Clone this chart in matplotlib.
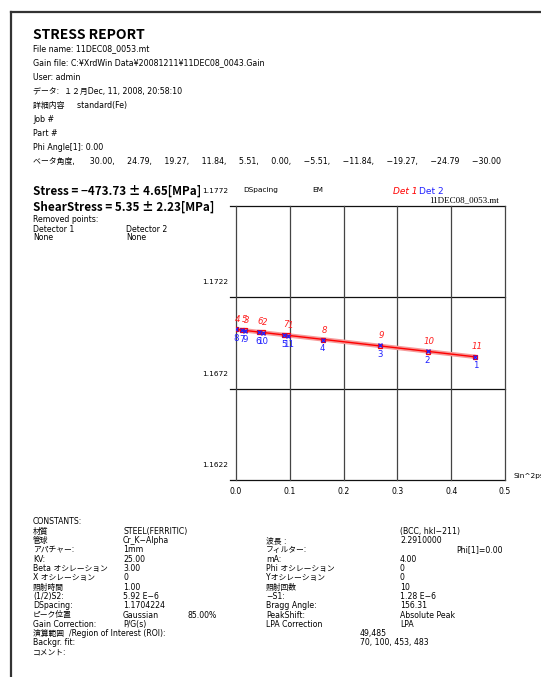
import numpy as np
import matplotlib
matplotlib.use("Agg")
import matplotlib.pyplot as plt
from matplotlib.lines import Line2D
import matplotlib.transforms as mtransforms

W, H = 541, 677
JP = ['Noto Sans CJK JP', 'DejaVu Sans']
LAT = ['DejaVu Sans', 'Noto Sans CJK JP']
plt.rcParams['font.family'] = JP
plt.rcParams['axes.unicode_minus'] = False

# ---- measured d-spacing vs sin^2(psi) for both detectors ----
point_no = list(range(1, 12))
det1_sin2psi = [0.097, 0.050, 0.017, 0.000, 0.012, 0.042, 0.089, 0.161, 0.267, 0.356, 0.445]
det1_d = [1.17012, 1.17028, 1.17041, 1.17046, 1.17043, 1.17031, 1.17015,
          1.16985, 1.16954, 1.16922, 1.16894]
det2_sin2psi = [0.445, 0.356, 0.267, 0.161, 0.089, 0.042, 0.012, 0.000, 0.017, 0.050, 0.097]
det2_d = [1.16896, 1.16926, 1.16957, 1.16988, 1.17013, 1.17030, 1.17040,
          1.17044, 1.17038, 1.17027, 1.17010]

y_ticks = [1.1622, 1.1672, 1.1722, 1.1772]
x_ticks = [0.0, 0.1, 0.2, 0.3, 0.4, 0.5]

beta_angles = ["30.00", "24.79", "19.27", "11.84", "5.51", "0.00",
               "−5.51", "−11.84", "−19.27", "−24.79", "−30.00"]
header_lines = [
    "File name: 11DEC08_0053.mt",
    "Gain file: C:¥XrdWin Data¥20081211¥11DEC08_0043.Gain",
    "User: admin",
    "データ:  １２月Dec, 11, 2008, 20:58:10",
    "詳細内容     standard(Fe)",
    "Job #",
    "Part #",
    "Phi Angle[1]: 0.00",
    "ベータ角度,      " + ",     ".join(beta_angles[:-1]) + "     " + beta_angles[-1],
]
stress_text = "Stress = −473.73 ± 4.65[MPa]"
shear_text = "ShearStress = 5.35 ± 2.23[MPa]"

const_col1 = ["材質", "管球", "アパチャー:", "KV:", "Beta オシレーション", "X オシレーション",
              "照射時間", "(1/2)S2:", "DSpacing:", "ピーク位置", "Gain Correction:",
              "演算範囲  /Region of Interest (ROI):", "Backgr. fit:", "コメント:"]
const_col2 = ["STEEL(FERRITIC)", "Cr_K−Alpha", "1mm", "25.00", "3.00", "0", "1.00",
              "5.92 E−6", "1.1704224", "Gaussian", "P/G(s)"]
const_col3 = ["波長 :", "フィルター:", "mA:", "Phi オシレーション", "Yオシレーション",
              "照射回数", "−S1:", "Bragg Angle:", "PeakShift:", "LPA Correction"]
const_col4 = ["(BCC, hkl−211)", "2.2910000", "", "4.00", "0", "0", "10", "1.28 E−6",
              "156.31", "Absolute Peak", "LPA"]
roi_values = ["49,485", "70, 100, 453, 483"]

fig = plt.figure(figsize=(W / 100, H / 100), dpi=100)


def fx(x):
    return x / W


def fy(y):
    return 1 - y / H


def ftext(x, y, s, size=5.6, **kw):
    kw.setdefault('va', 'center')
    kw.setdefault('ha', 'left')
    kw.setdefault('family', LAT)
    fig.text(fx(x), fy(y), s, fontsize=size, **kw)


# page frame (top and left edges)
fig.add_artist(Line2D([fx(11), fx(W + 5)], [fy(12), fy(12)], color='#333333', lw=1.6))
fig.add_artist(Line2D([fx(11), fx(11)], [fy(12), fy(H + 5)], color='#333333', lw=1.6))

# report header
ftext(33, 35, "STRESS REPORT", size=10, fontweight='bold', family=JP)
hy = 49
for line in header_lines:
    ftext(33, hy, line, size=5.7)
    hy += 14

ftext(33, 191, stress_text, size=8.4, family=JP, fontweight='bold')
ftext(33, 207, shear_text, size=8.4, family=JP, fontweight='bold')
ftext(33, 219, "Removed points:")
ftext(33, 229, "Detector 1")
ftext(126, 229, "Detector 2")
ftext(33, 238, "None")
ftext(126, 238, "None")

# plot area
x0, x1, ytop, ybot = 236, 505, 206, 480
ax = fig.add_axes([fx(x0), fy(ybot), (x1 - x0) / W, (ybot - ytop) / H])
ax.set_xlim(0, 0.5)
ax.set_ylim(y_ticks[0], y_ticks[-1])
for s in ax.spines.values():
    s.set_visible(False)
ax.set_xticks([])
ax.set_yticks([])
ax.patch.set_alpha(0)

blend = mtransforms.blended_transform_factory(ax.transAxes, ax.transData)
ext = -6 / (x1 - x0)
for v in y_ticks:
    ax.add_line(Line2D([ext, 1], [v, v], transform=blend, color='#111111', lw=0.9,
                       clip_on=False))
    ax.annotate(f"{v:.4f}", xy=(0, v), xycoords=('axes fraction', 'data'),
                xytext=(-8, 15), textcoords='offset pixels', ha='right', va='center',
                fontsize=5.3, family=LAT)
for v in x_ticks:
    ax.axvline(v, color='#444444', lw=0.9, clip_on=False)
    ax.annotate(f"{v:.1f}", xy=(v, 0), xycoords=('data', 'axes fraction'),
                xytext=(0, -11), textcoords='offset pixels', ha='center', va='center',
                fontsize=5.6, family=LAT)
ax.annotate("Sin^2psi", xy=(1, 0), xycoords='axes fraction', xytext=(8, 4),
            textcoords='offset pixels', ha='left', va='center', fontsize=5.3,
            family=LAT, annotation_clip=False)

# linear fit through all points
xs = np.array(det1_sin2psi + det2_sin2psi)
ds = np.array(det1_d + det2_d)
slope, icpt = np.polyfit(xs, ds, 1)
xf = np.array([0.0, xs.max()])
ax.plot(xf, icpt + slope * xf, color='#f59a9a', lw=3.2, solid_capstyle='butt', zorder=3)
ax.plot(xf, icpt + slope * xf, color='#ff0000', lw=1.0, zorder=4)

ax.plot(det1_sin2psi, det1_d, ls='none', marker='s', ms=3, mfc='none', mec='#ff0000',
        mew=0.9, zorder=5)
ax.plot(det2_sin2psi, det2_d, ls='none', marker='x', ms=3, mec='#2020ff',
        mew=0.9, zorder=5)
for n, x, d in zip(point_no, det1_sin2psi, det1_d):
    ax.annotate(str(n), xy=(x, d), xytext=(2, 10), textcoords='offset pixels',
                ha='center', va='center', fontsize=6.2, style='italic', color='#ff2020',
                family=['DejaVu Sans'])
for n, x, d in zip(point_no, det2_sin2psi, det2_d):
    ax.annotate(str(n), xy=(x, d), xytext=(0, -9), textcoords='offset pixels',
                ha='center', va='center', fontsize=6.2, color='#2020ff',
                family=['DejaVu Sans'])

# labels above the plot
ftext(243, 190, "DSpacing", size=5.3)
ftext(312, 190, "EM", size=5.3)
ftext(393, 191, "Det 1", size=6.5, color='#ff0000', style='italic')
ftext(419, 191, "Det 2", size=6.5, color='#2020ff')
ftext(499, 200, "11DEC08_0053.mt", size=6.5, ha='right',
      family=['Liberation Serif', 'DejaVu Serif'])

# constants block
ry = 522
step = 9.3
ftext(33, ry, "CONSTANTS:")
for i, s in enumerate(const_col1):
    ftext(33, ry + step * (i + 1), s)
for i, s in enumerate(const_col2):
    ftext(123, ry + step * (i + 1), s)
ftext(188, ry + step * 10, "85.00%")
for i, s in enumerate(const_col3):
    ftext(266, ry + step * (i + 2), s)
for i, s in enumerate(const_col4):
    ftext(400, ry + step * (i + 1), s)
ftext(456, ry + step * 3, "Phi[1]=0.00")
for i, s in enumerate(roi_values):
    ftext(360, ry + step * (12 + i), s)

fig.savefig("out.png", dpi=100)
